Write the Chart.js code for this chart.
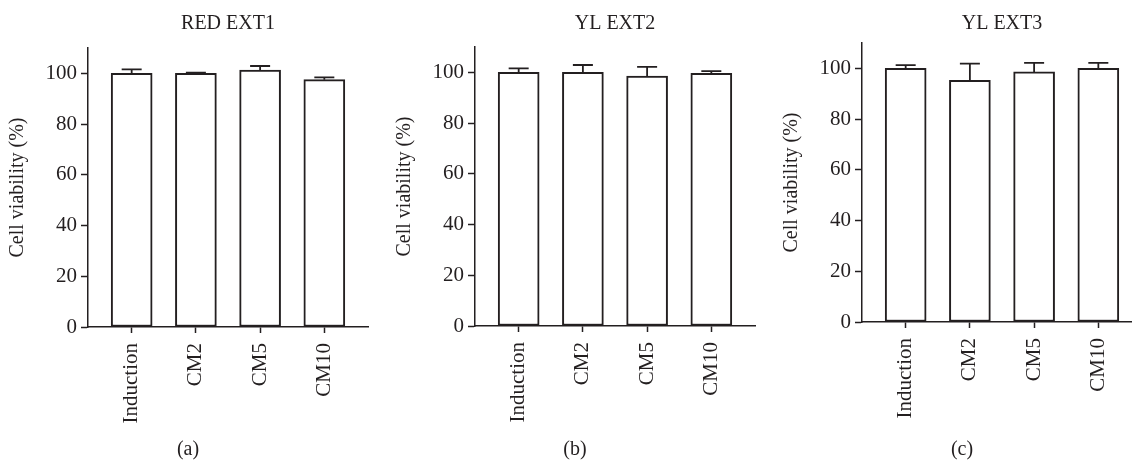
<!DOCTYPE html>
<html>
<head>
<meta charset="utf-8">
<script src="https://cdn.jsdelivr.net/npm/chart.js@4"></script>
<style>
  html, body { margin: 0; padding: 0; background: #fff; overflow: hidden; width: 1132px; height: 461px; }
  canvas { position: absolute; top: 0; }
</style>
</head>
<body>
<canvas id="chartA" width="380" height="461" style="left:0px"></canvas>
<canvas id="chartB" width="380" height="461" style="left:387px"></canvas>
<canvas id="chartC" width="380" height="461" style="left:774px"></canvas>
<script>
var categories = ['Induction', 'CM2', 'CM5', 'CM10'];
var yTicks = [0, 20, 40, 60, 80, 100];

var red1Values = [100, 100, 101.3, 97.5];
var red1Errors = [1.6, 0.3, 1.6, 0.9];

var yl2Values = [100, 100, 98.5, 99.6];
var yl2Errors = [1.6, 2.9, 3.7, 0.9];

var yl3Values = [100, 95.3, 98.6, 100];
var yl3Errors = [1.3, 6.6, 3.6, 2.2];

var ink = '#231f20';
var family = '"Liberation Serif", "Times New Roman", serif';
var tickFont = { family: family, size: 21 };

// draws the upper SEM whisker on each bar
var errorBars = {
    id: 'errorBars',
    afterDatasetsDraw: function(chart) {
        var ctx = chart.ctx;
        var ds = chart.data.datasets[0];
        var yScale = chart.scales.y;
        ctx.save();
        ctx.strokeStyle = ink;
        ctx.lineWidth = 1.8;
        chart.getDatasetMeta(0).data.forEach(function(bar, i) {
            var v = ds.data[i].y;
            var top = yScale.getPixelForValue(v);
            var end = yScale.getPixelForValue(v + ds.errors[i]);
            ctx.beginPath();
            ctx.moveTo(bar.x, top);
            ctx.lineTo(bar.x, end);
            ctx.moveTo(bar.x - 10, end);
            ctx.lineTo(bar.x + 10, end);
            ctx.stroke();
        });
        ctx.restore();
    }
};

function makeChart(id, title, tag, values, errors, titleGap, xHeight) {
    var points = values.map(function(v, i) { return { x: i, y: v }; });
    var ctx = document.getElementById(id).getContext('2d');
    return new Chart(ctx, {
        type: 'bar',
        data: {
            datasets: [{
                data: points,
                errors: errors,
                backgroundColor: '#ffffff',
                borderColor: ink,
                borderWidth: 2,
                borderSkipped: false,
                barThickness: 41
            }]
        },
        options: {
            responsive: false,
            animation: false,
            events: [],
            layout: { padding: { left: 8, right: 12, top: 0, bottom: 0 } },
            plugins: {
                legend: { display: false },
                tooltip: { enabled: false },
                title: {
                    display: true,
                    text: title,
                    fullSize: false,
                    color: ink,
                    font: { family: family, size: 20, weight: 'normal', lineHeight: 1.2 },
                    padding: { top: 12, bottom: titleGap }
                },
                subtitle: {
                    display: true,
                    position: 'bottom',
                    text: tag,
                    color: ink,
                    font: { family: family, size: 20, lineHeight: 1 },
                    padding: { top: 0, bottom: 1 }
                }
            },
            scales: {
                x: {
                    type: 'linear',
                    min: -0.68,
                    max: 3.68,
                    offset: false,
                    afterBuildTicks: function(scale) {
                        scale.ticks = categories.map(function(c, i) { return { value: i }; });
                    },
                    afterFit: function(scale) { scale.height = xHeight; },
                    grid: { display: true, offset: false, drawOnChartArea: false, tickLength: 6, tickWidth: 1.5, tickColor: ink },
                    border: { display: true, color: ink, width: 1.5 },
                    ticks: {
                        minRotation: 90,
                        maxRotation: 90,
                        padding: 10,
                        color: ink,
                        font: tickFont,
                        callback: function(v) { return categories[v]; }
                    }
                },
                y: {
                    min: 0,
                    max: 110,
                    afterBuildTicks: function(scale) {
                        scale.ticks = yTicks.map(function(t) { return { value: t }; });
                    },
                    afterFit: function(scale) { scale.width = 80; },
                    grid: { drawOnChartArea: false, tickLength: 7, tickWidth: 1.5, tickColor: ink },
                    border: { display: true, color: ink, width: 1.5 },
                    ticks: { padding: 4, color: ink, font: tickFont },
                    title: {
                        display: true,
                        text: 'Cell viability (%)',
                        color: ink,
                        font: { family: family, size: 20, lineHeight: 1 },
                        padding: { top: 0, bottom: 0 }
                    }
                }
            }
        },
        plugins: [errorBars]
    });
}

window.onload = function() {
    makeChart('chartA', 'RED EXT1', '(a)', red1Values, red1Errors, 12, 113);
    makeChart('chartB', 'YL EXT2', '(b)', yl2Values, yl2Errors, 11, 114);
    makeChart('chartC', 'YL EXT3', '(c)', yl3Values, yl3Errors, 7, 118);
};
</script>
</body>
</html>
